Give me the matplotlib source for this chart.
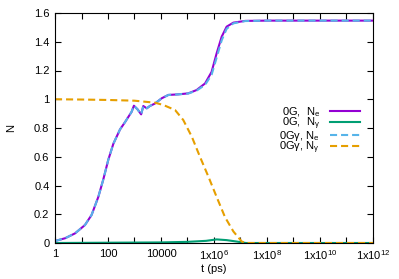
import matplotlib
matplotlib.use("Agg")
from matplotlib import pyplot as plt
from matplotlib.ticker import FixedLocator, NullLocator

plt.rcParams['font.family'] = ['Liberation Sans', 'DejaVu Sans']
plt.rcParams['mathtext.fontset'] = 'custom'
plt.rcParams['mathtext.rm'] = 'Liberation Sans'
plt.rcParams['mathtext.it'] = 'Liberation Sans:italic'

# 0G, N_e and 0Ggamma, N_e (nearly on top of each other)
t_ne = [1, 2.4, 5.7, 13.5, 24, 43, 66, 103, 159, 284, 436, 780, 950, 1300,
        1780, 2150, 2900, 3800, 5900, 10700, 19000, 4.5e4, 1.07e5, 2.2e5,
        4.6e5, 8.1e5, 1.26e6, 1.95e6, 3.0e6, 5.4e6, 1.5e7, 1e8, 1e12]
ne_0g = [0.014, 0.033, 0.067, 0.125, 0.195, 0.32, 0.44, 0.58, 0.69, 0.79,
         0.84, 0.913, 0.955, 0.93, 0.895, 0.953, 0.937, 0.953, 0.97, 1.007,
         1.03, 1.034, 1.041, 1.064, 1.11, 1.19, 1.32, 1.435, 1.505, 1.533,
         1.545, 1.547, 1.547]
ne_0gg = [0.014, 0.033, 0.067, 0.125, 0.195, 0.32, 0.44, 0.58, 0.69, 0.79,
          0.84, 0.913, 0.955, 0.93, 0.895, 0.953, 0.937, 0.953, 0.97, 1.007,
          1.03, 1.034, 1.040, 1.060, 1.10, 1.17, 1.29, 1.41, 1.49, 1.528,
          1.544, 1.547, 1.547]

# 0G, N_gamma
t_g0 = [1, 100, 1e4, 1e5, 5e5, 1.26e6, 3e6, 7.2e6, 1.6e7, 1e12]
ng_0g = [0.0, 0.002, 0.004, 0.008, 0.015, 0.025, 0.02, 0.01, 0.0, 0.0]

# 0Ggamma, N_gamma
t_ng = [1, 10, 100, 1000, 5900, 12300, 3.4e4, 6.9e4, 1.45e5, 2.95e5, 6.2e5,
        1.26e6, 2.6e6, 5.4e6, 1.12e7, 1.6e7, 1e12]
ng_0gg = [1.0, 0.998, 0.995, 0.99, 0.976, 0.96, 0.925, 0.856, 0.74, 0.60,
          0.46, 0.32, 0.18, 0.08, 0.01, 0.0, 0.0]

xtick_vals = [1e0, 1e1, 1e2, 1e3, 1e4, 1e5, 1e6, 1e7, 1e8, 1e9, 1e10, 1e11, 1e12]
xtick_labels = ["1", "", "100", "", "10000", "", "1x10$^{6}$", "",
                "1x10$^{8}$", "", "1x10$^{10}$", "", "1x10$^{12}$"]
ytick_vals = [0, 0.2, 0.4, 0.6, 0.8, 1.0, 1.2, 1.4, 1.6]
ytick_labels = ["0", "0.2", "0.4", "0.6", "0.8", "1", "1.2", "1.4", "1.6"]

fig = plt.figure(figsize=(3.99, 2.79), dpi=100)
ax = fig.add_axes([55 / 399, 1 - 243 / 279, 318 / 399, 230 / 279])

ax.plot(t_ne, ne_0g, color='#9400D3', lw=1.5, label=r'0G,  N$_\mathrm{e}$')
ax.plot(t_g0, ng_0g, color='#009E73', lw=1.5, label=r'0G,  N$_\mathrm{γ}$')
ax.plot(t_ne, ne_0gg, color='#56B4E9', lw=1.5, dashes=[3.4, 1.9],
        label=r'0Gγ, N$_\mathrm{e}$')
ax.plot(t_ng, ng_0gg, color='#E69F00', lw=1.5, dashes=[3.4, 1.9],
        label=r'0Gγ, N$_\mathrm{γ}$')

ax.set_xscale('log')
ax.set_xlim(1, 1e12)
ax.set_ylim(0, 1.6)
ax.xaxis.set_major_locator(FixedLocator(xtick_vals))
ax.xaxis.set_minor_locator(NullLocator())
ax.set_xticklabels(xtick_labels)
ax.set_yticks(ytick_vals)
ax.set_yticklabels(ytick_labels)
ax.tick_params(direction='in', length=4, width=0.8, top=True, right=True,
               labelsize=8, pad=4)

ax.set_xlabel("t (ps)", fontsize=8, labelpad=1)
ax.set_ylabel("N", fontsize=8, rotation=90, labelpad=13)

# rows sit very close together, as in the original
ax.legend(loc='center right', bbox_to_anchor=(0.959, 0.489), frameon=False,
          markerfirst=False, fontsize=8, handlelength=2.7, handletextpad=0.9,
          labelspacing=-0.28, borderpad=0, borderaxespad=0)

plt.savefig("out.png", dpi=100)
plt.close()
